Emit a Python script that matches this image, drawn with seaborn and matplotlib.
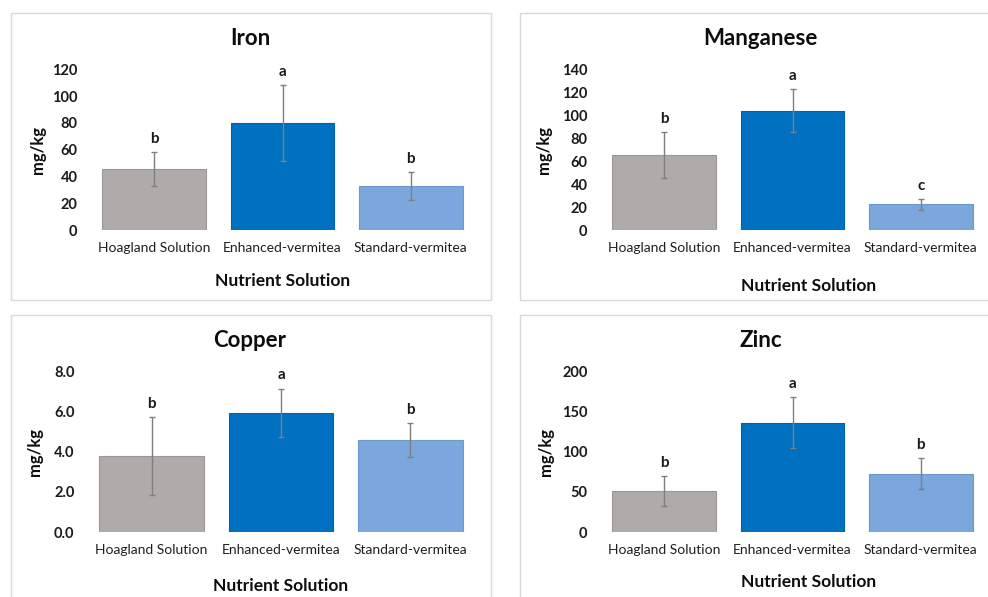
import numpy as np
import pandas as pd
import matplotlib.pyplot as plt
from matplotlib.patches import Rectangle
import seaborn as sns

categories = ['Hoagland Solution', 'Enhanced-vermitea', 'Standard-vermitea']
bar_colors = ['#AFABAB', '#0070C0', '#7BA7DC']
edge_colors = ['#9A9696', '#0064AD', '#6C98CE']

iron_mean = [45.5, 79.7, 32.6]
iron_err = [12.5, 28.5, 10.5]
iron_letters = ['b', 'a', 'b']

mn_mean = [65.1, 104.0, 22.4]
mn_err = [20.0, 19.0, 4.8]
mn_letters = ['b', 'a', 'c']

cu_mean = [3.79, 5.96, 4.58]
cu_err = [1.96, 1.20, 0.85]
cu_letters = ['b', 'a', 'b']

zn_mean = [51.1, 136.4, 72.8]
zn_err = [18.7, 31.6, 19.0]
zn_letters = ['b', 'a', 'b']

sns.set_theme(style='white')
plt.rcParams['font.family'] = ['Lato', 'DejaVu Sans']

W, H = 988, 597
fig = plt.figure(figsize=(W / 100, H / 100), dpi=100)

# panel frames (pixels: x0, y0 from top, x1, y1)
for x0, y0, x1, y1 in [(11, 13, 491, 300), (520, 13, 995, 300),
                       (11, 315, 491, 605), (520, 315, 995, 605)]:
    fig.patches.append(Rectangle((x0 / W, 1 - y1 / H), (x1 - x0) / W, (y1 - y0) / H,
                                 transform=fig.transFigure, fill=False,
                                 edgecolor='#D9D9D9', linewidth=1.0, zorder=0))

panels = [
    # title, mean, err, letters, ymax, ticks, fmt, ax rect px (left, right, bottom, top), title x, ylabel x, xlabel y px
    ('Iron', iron_mean, iron_err, iron_letters, 120, np.arange(0, 121, 20), '{:.0f}',
     (90, 475, 230, 69.3), 0.416, -0.135, 281),
    ('Manganese', mn_mean, mn_err, mn_letters, 140, np.arange(0, 141, 20), '{:.0f}',
     (600, 985, 230, 69.3), 0.417, -0.145, 286),
    ('Copper', cu_mean, cu_err, cu_letters, 8, np.arange(0, 8.1, 2), '{:.1f}',
     (87, 475, 532, 371.7), 0.42, -0.134, 586),
    ('Zinc', zn_mean, zn_err, zn_letters, 200, np.arange(0, 201, 50), '{:.0f}',
     (600, 985, 532, 371.7), 0.417, -0.14, 582),
]

for title, mean, err, letters, ymax, ticks, fmt, rect, tx, ylx, xly in panels:
    l, r, b, t = rect
    ax = fig.add_axes([l / W, 1 - b / H, (r - l) / W, (b - t) / H])
    df = pd.DataFrame({'treatment': categories, 'value': mean})
    sns.barplot(data=df, x='treatment', y='value', hue='treatment',
                palette=bar_colors, width=0.81, ax=ax, legend=False,
                linewidth=0.8, saturation=1)
    for patch, ec in zip(ax.patches, edge_colors):
        patch.set_edgecolor(ec)
    xs = np.arange(len(categories))
    ax.errorbar(xs, mean, yerr=err, fmt='none', ecolor='#7F7F7F',
                elinewidth=1.0, capsize=2.5, capthick=1.0)
    for x, m, e, lt in zip(xs, mean, err, letters):
        ax.annotate(lt, (x, m + e), xytext=(0, 9.5), textcoords='offset points',
                    ha='center', va='center', fontsize=11, fontweight='bold',
                    color='#1a1a1a')
    ax.set_xlim(-0.5, 2.5)
    ax.set_ylim(0, ymax)
    ax.set_yticks(ticks)
    ax.set_yticklabels([fmt.format(v) for v in ticks], fontweight='bold',
                       fontsize=10.5, color='#1a1a1a')
    ax.tick_params(axis='y', length=0, pad=9)
    ax.tick_params(axis='x', length=0, pad=9, labelsize=10, labelcolor='#1f1f1f')
    ax.set_xlabel('')
    ax.set_ylabel('')
    for s in ax.spines.values():
        s.set_visible(False)
    ax.text(tx, 1 + 31 / (b - t), title, transform=ax.transAxes, ha='center',
            va='center', fontsize=16, fontweight='bold', color='#0d0d0d')
    ax.text(ylx, 0.5, 'mg/kg', transform=ax.transAxes, rotation=90,
            ha='center', va='center', fontsize=12, fontweight='bold', color='#0d0d0d')
    xl_x = 0.5 if title in ('Iron', 'Copper') else 0.543
    ax.text(xl_x, -(xly - b) / (b - t), 'Nutrient Solution', transform=ax.transAxes,
            ha='center', va='center', fontsize=12.5, fontweight='bold', color='#0d0d0d')

fig.savefig('out.png', dpi=100)
